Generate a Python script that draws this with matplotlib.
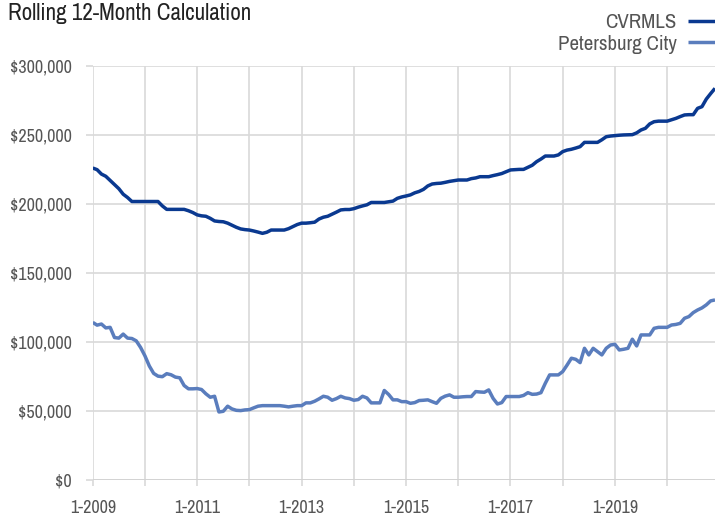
import matplotlib
matplotlib.use("Agg")
import matplotlib.pyplot as plt
from matplotlib import font_manager
import numpy as np
from matplotlib.ticker import FuncFormatter

# pick a condensed face if one is installed
cond = None
stretch = 'normal'
for f in font_manager.fontManager.ttflist:
    if ('Narrow' in f.name or 'Condensed' in f.name) and f.style == 'normal' and f.weight in (400, 'normal', 'regular'):
        cond = f.name
        break
if cond is None:
    for f in font_manager.fontManager.ttflist:
        if str(f.stretch) in ('condensed', 'semi-condensed', '75', '87.5') and f.style == 'normal' and f.weight in (400, 'normal', 'regular'):
            cond = f.name
            stretch = f.stretch
            break
fam = [cond] if cond else []
plt.rcParams['font.family'] = fam + ['Liberation Sans', 'DejaVu Sans']
plt.rcParams['font.stretch'] = stretch

years = list(range(2009, 2021))
# Monthly values (thousands of dollars), Jan 2009 - Dec 2020
cvrmls_k = [
    226, 224.8, 221.6, 220, 217, 214, 211, 207, 204.6, 201.7, 201.7, 201.7,
    201.7, 201.7, 201.7, 201.7, 198.5, 196, 196, 196, 196, 196, 195, 193.7,
    192, 191.3, 191, 189.5, 187.6, 187.2, 187, 186, 184.5, 183, 181.8, 181.3,
    181, 180.3, 179.5, 178.6, 179.4, 181, 181, 181, 181, 182, 183.5, 185,
    186, 186, 186.3, 186.7, 189, 190.3, 191, 192.5, 194, 195.6, 195.9, 195.9,
    196.5, 197.6, 198.5, 199.3, 201, 201, 201, 201, 201.5, 202, 204, 205,
    205.7, 206.5, 208, 209, 210.5, 213, 214.4, 214.8, 215, 215.6, 216.3, 216.8,
    217.3, 217.3, 217.3, 218.3, 218.8, 219.7, 219.7, 219.7, 220.5, 221.2, 222, 223.3,
    224.6, 224.8, 225, 225, 226.5, 228, 230.6, 232.5, 234.7, 234.7, 234.7, 235.5,
    237.9, 239, 239.6, 240.5, 241.5, 244.6, 244.6, 244.6, 244.6, 246.5, 248.7, 249.2,
    249.5, 249.8, 250, 250.1, 250.2, 251.5, 253.6, 254.8, 258, 259.6, 260, 260,
    260, 261, 262, 263.3, 264.5, 264.7, 264.7, 269.3, 270.5, 276, 280, 283.8,
]
petersburg_k = [
    114, 112, 112.8, 110, 110.4, 103, 102.6, 105.5, 102.6, 102.3, 100.6, 95.8,
    89.7, 82.4, 77, 75, 74.6, 76.8, 76, 74.3, 73.8, 68.2, 65.8, 65.8,
    66, 65.3, 62.2, 59.7, 60.4, 49, 49.5, 53.2, 51.2, 50.2, 50, 50.5,
    50.7, 52, 53.2, 53.6, 53.6, 53.6, 53.6, 53.6, 53.2, 52.7, 53.2, 53.6,
    53.6, 55.6, 55.6, 56.8, 58.5, 60.4, 59.7, 57.5, 58.7, 60.4, 59.2, 58.7,
    57.5, 58, 60.4, 59.2, 55.6, 55.6, 55.6, 64.6, 61.7, 57.8, 57.8, 56.5,
    56.5, 55.3, 55.8, 57.3, 57.5, 57.8, 56.5, 55.3, 58.9, 60.5, 61.4, 59.7,
    59.7, 60, 60.2, 60.2, 63.8, 63.5, 63.3, 65, 58.9, 54.8, 55.8, 60.2,
    60.2, 60.2, 60.2, 61, 63, 61.8, 62, 63, 69.8, 75.9, 75.9, 75.9,
    78.3, 83, 88, 87.2, 84.8, 95.2, 90.4, 95.2, 92.8, 90.4, 95.2, 97.6,
    98.1, 94, 94.5, 95.2, 101.8, 96.9, 104.9, 104.9, 104.9, 109.7, 110.4, 110.4,
    110.4, 112.1, 112.5, 113.3, 117, 118.2, 121.1, 123, 124.5, 126.7, 129.6, 130.3,
]
series_names = ["CVRMLS", "Petersburg City"]
y_ticks = [0, 50000, 100000, 150000, 200000, 250000, 300000]

cvrmls = np.array(cvrmls_k) * 1000
petersburg = np.array(petersburg_k) * 1000
months = np.arange(len(cvrmls))

fig = plt.figure(figsize=(7.15, 5.15), dpi=100)
ax = fig.add_axes([0.1297, 0.0689, 0.8703, 0.8029])

grid_c = '#d9d9d9'
ax.plot(months, cvrmls, color='#0a3990', lw=2.5, label=series_names[0], solid_capstyle='butt', zorder=3)
ax.plot(months, petersburg, color='#5a7dbd', lw=2.5, label=series_names[1], solid_capstyle='butt', zorder=3)

ax.set_xlim(0, len(months) - 1)
ax.set_ylim(0, 300000)
ax.set_yticks(y_ticks)
ax.yaxis.set_major_formatter(FuncFormatter(lambda v, p: f"${int(v):,}"))
xt = [12 * i for i in range(len(years))]
ax.set_xticks(xt)
ax.set_xticklabels([f"1-{y}" if (y - 2009) % 2 == 0 else "" for y in years])
ax.grid(True, color=grid_c, lw=1.2, zorder=0)
ax.set_axisbelow(True)
for s in ax.spines.values():
    s.set_visible(False)
big = cond is not None
ax.tick_params(axis='both', colors=grid_c, width=1.2, labelcolor='#555555', labelsize=13 if big else 11.5)
ax.tick_params(axis='x', length=4.5, pad=10)
ax.tick_params(axis='y', length=5, pad=10)
ax.axhline(0, color='#d0d0d0', lw=1.8, zorder=1)

fig.text(0.011, 0.995, "Rolling 12-Month Calculation", ha='left', va='top',
         fontsize=16.6 if big else 13.8, color='#222222')
leg = ax.legend(loc='lower right', bbox_to_anchor=(1.0, 1.03), frameon=False, markerfirst=False,
                fontsize=15 if big else 14, handlelength=1.3, handletextpad=0.55, labelspacing=0.12,
                borderaxespad=0.0, borderpad=0.0)
for t in leg.get_texts():
    t.set_color('#555555')

fig.savefig("out.png", dpi=100)
